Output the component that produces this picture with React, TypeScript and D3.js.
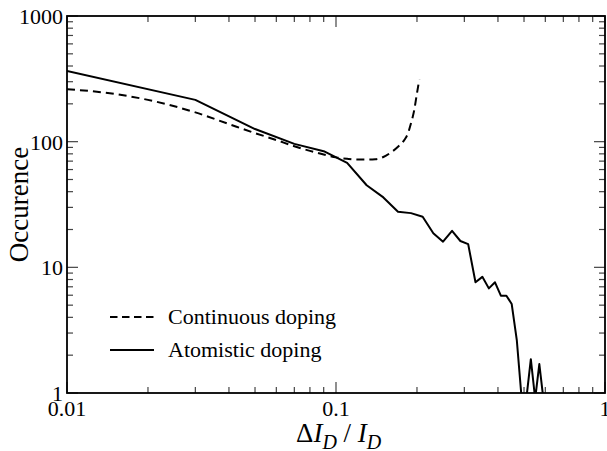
import { useEffect, useRef } from "react";
import * as d3 from "d3";

// continuous doping (dashed)
const contX = [0.01, 0.015, 0.02, 0.03, 0.04, 0.05, 0.06, 0.07, 0.08, 0.09, 0.1, 0.11, 0.12, 0.13, 0.14, 0.15, 0.16, 0.17, 0.18, 0.185, 0.19, 0.195, 0.2, 0.204];
const contY = [262, 240, 215, 171, 138, 117, 103, 92, 84.5, 79, 75, 73, 72, 72, 72.5, 75.5, 82, 91, 104, 116, 140, 175, 243, 312];

// atomistic doping (solid), 0 = empty bin
const atomX = [0.01, 0.03, 0.05, 0.07, 0.09, 0.11, 0.13, 0.15, 0.17, 0.19, 0.21, 0.23, 0.25, 0.27, 0.29, 0.31, 0.33, 0.35, 0.37, 0.39, 0.41, 0.43, 0.45, 0.47, 0.49, 0.51, 0.53, 0.55, 0.57, 0.59];
const atomY = [365, 215, 126, 96, 84, 67.7, 45, 36, 27.7, 27, 25.3, 18.7, 16, 19.5, 16.2, 15.3, 7.6, 8.4, 6.8, 7.6, 5.95, 5.95, 5.1, 2.64, 0, 0, 1.86, 0, 1.7, 0];

const xTicks = [0.01, 0.1, 1];
const xTickLabels = ["0.01", "0.1", "1"];
const yTicks = [1, 10, 100, 1000];
const yTickLabels = ["1", "10", "100", "1000"];

const legendLabels = ["Continuous doping", "Atomistic doping"];

export default function App() {
    const ref = useRef<SVGSVGElement | null>(null);

    useEffect(() => {
        document.body.style.margin = "0";
        const svg = d3.select(ref.current);
        svg.selectAll("*").remove();

        const left = 67, right = 605, top = 16, bottom = 393;
        const font = "Liberation Serif";

        const x = d3.scaleLog().domain([0.01, 1]).range([left, right]);
        const y = d3.scaleLog().domain([1, 1000]).range([bottom, top]);

        svg.append("defs").append("clipPath").attr("id", "plotclip")
            .append("rect")
            .attr("x", left).attr("y", top)
            .attr("width", right - left).attr("height", bottom - top);

        // minor + major ticks, mirrored on all four sides
        const ticks = svg.append("g").attr("stroke", "#444").attr("stroke-width", 1.2);
        const minorX: number[] = [];
        const minorY: number[] = [];
        [0.01, 0.1].forEach(d => { for (let k = 2; k <= 9; k++) minorX.push(d * k); });
        [1, 10, 100].forEach(d => { for (let k = 2; k <= 9; k++) minorY.push(d * k); });

        const xt = (vals: number[], len: number) => {
            vals.forEach(v => {
                ticks.append("line").attr("x1", x(v)).attr("x2", x(v)).attr("y1", bottom).attr("y2", bottom - len);
                ticks.append("line").attr("x1", x(v)).attr("x2", x(v)).attr("y1", top).attr("y2", top + len);
            });
        };
        const yt = (vals: number[], len: number) => {
            vals.forEach(v => {
                ticks.append("line").attr("y1", y(v)).attr("y2", y(v)).attr("x1", left).attr("x2", left + len);
                ticks.append("line").attr("y1", y(v)).attr("y2", y(v)).attr("x1", right).attr("x2", right - len);
            });
        };
        xt(minorX, 6);
        xt(xTicks, 11);
        yt(minorY, 6);
        yt(yTicks, 11);

        // frame
        svg.append("rect")
            .attr("x", left).attr("y", top)
            .attr("width", right - left).attr("height", bottom - top)
            .attr("fill", "none").attr("stroke", "#000").attr("stroke-width", 1.8);

        // tick labels
        svg.append("g").selectAll("text").data(xTicks).join("text")
            .attr("x", d => x(d)).attr("y", bottom + 23)
            .attr("text-anchor", "middle")
            .style("font-family", font).style("font-size", "22px")
            .text((d, i) => xTickLabels[i]);

        svg.append("g").selectAll("text").data(yTicks).join("text")
            .attr("x", left - 4).attr("y", d => y(d) + 8)
            .attr("text-anchor", "end")
            .style("font-family", font).style("font-size", "22px")
            .text((d, i) => yTickLabels[i]);

        // axis titles
        svg.append("text")
            .attr("transform", `translate(28,${(top + bottom) / 2}) rotate(-90)`)
            .attr("text-anchor", "middle")
            .style("font-family", font).style("font-size", "27px")
            .text("Occurence");

        const xt2 = svg.append("text")
            .attr("x", 296).attr("y", 442)
            .style("font-family", font).style("font-size", "27px");
        xt2.append("tspan").text("\u0394");
        xt2.append("tspan").style("font-style", "italic").text("I");
        xt2.append("tspan").style("font-style", "italic").style("font-size", "20px").attr("dy", 7).text("D");
        xt2.append("tspan").attr("dy", -7).text(" / ");
        xt2.append("tspan").style("font-style", "italic").text("I");
        xt2.append("tspan").style("font-style", "italic").style("font-size", "20px").attr("dy", 7).text("D");

        // curves
        const plot = svg.append("g").attr("clip-path", "url(#plotclip)");

        const contLine = d3.line<number>()
            .x((d, i) => x(contX[i]))
            .y(d => y(d))
            .curve(d3.curveMonotoneX);

        plot.append("path")
            .datum(contY)
            .attr("d", contLine)
            .attr("fill", "none")
            .attr("stroke", "#000")
            .attr("stroke-width", 2)
            .attr("stroke-dasharray", "8,5");

        // empty bins drop just under the axis
        const atomLine = d3.line<number>()
            .x((d, i) => x(atomX[i]))
            .y(d => y(d > 0 ? d : 0.9));

        plot.append("path")
            .datum(atomY)
            .attr("d", atomLine)
            .attr("fill", "none")
            .attr("stroke", "#000")
            .attr("stroke-width", 2)
            .attr("stroke-linejoin", "round");

        // legend
        const leg = svg.append("g");
        legendLabels.forEach((lab, i) => {
            const ly = 317 + i * 33;
            leg.append("line")
                .attr("x1", 110).attr("x2", 154)
                .attr("y1", ly).attr("y2", ly)
                .attr("stroke", "#000").attr("stroke-width", 2)
                .attr("stroke-dasharray", i === 0 ? "7.5,4.5" : null);
            leg.append("text")
                .attr("x", 168).attr("y", ly + 7)
                .style("font-family", font).style("font-size", "22px")
                .text(lab);
        });
    }, []);

    return <svg ref={ref} width={607} height={451} style={{ display: "block", background: "#fff" }} />;
}
